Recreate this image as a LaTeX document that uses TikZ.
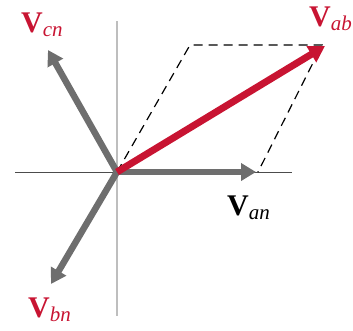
\documentclass[tikz,border=0pt]{standalone}
\usepackage{fontspec}
\setmainfont{Liberation Serif}
\usetikzlibrary{arrows.meta}
\definecolor{vred}{RGB}{200,20,50}
\definecolor{vgray}{RGB}{110,110,110}
\definecolor{axgray}{RGB}{190,190,190}
\newcommand{\vlab}[1]{\fontsize{30}{30}\selectfont\textbf{V}\raisebox{-4pt}{\fontsize{21}{21}\selectfont\itshape #1}}
\begin{document}
\begin{tikzpicture}[x=1pt,y=-1pt,
  phasor/.style={line width=6.5pt,vgray,-{Triangle[length=15pt,width=17pt]}},
  redphasor/.style={line width=7pt,vred,-{Triangle[length=16pt,width=18pt]}},
  guide/.style={black,line width=1.2pt,dash pattern=on 9pt off 6pt},
  lab/.style={inner sep=0pt,anchor=base west}]
\useasboundingbox (0,0) rectangle (353,330);
\coordinate (o) at (117,172);
\coordinate (xl) at (15,172);
\coordinate (xr) at (292,172);
\coordinate (yt) at (117,21);
\coordinate (yb) at (117,316);
\coordinate (an) at (256,172);
\coordinate (cn) at (48,50);
\coordinate (bn) at (51,284);
\coordinate (ab) at (325,46);
\coordinate (p1) at (190,45);
\coordinate (p2) at (322,45);
\coordinate (p3) at (258,172);
\draw[axgray,line width=2pt] (yt) -- (yb);
\draw[black!70,line width=0.9pt] (xl) -- (xr);
\draw[guide] (o) -- (p1) -- (p2) -- (p3);
\draw[phasor] (o) -- (an);
\draw[phasor] (o) -- (cn);
\draw[phasor] (o) -- (bn);
\draw[redphasor] (o) -- (ab);
\node[lab,text=vred] (lcn) at (21,32) {\vlab{cn}};
\node[lab,text=vred] (lab) at (309,26) {\vlab{ab}};
\node[lab,text=black] (lan) at (227,215) {\vlab{an}};
\node[lab,text=vred] (lbn) at (28,317) {\vlab{bn}};
\end{tikzpicture}
\end{document}
